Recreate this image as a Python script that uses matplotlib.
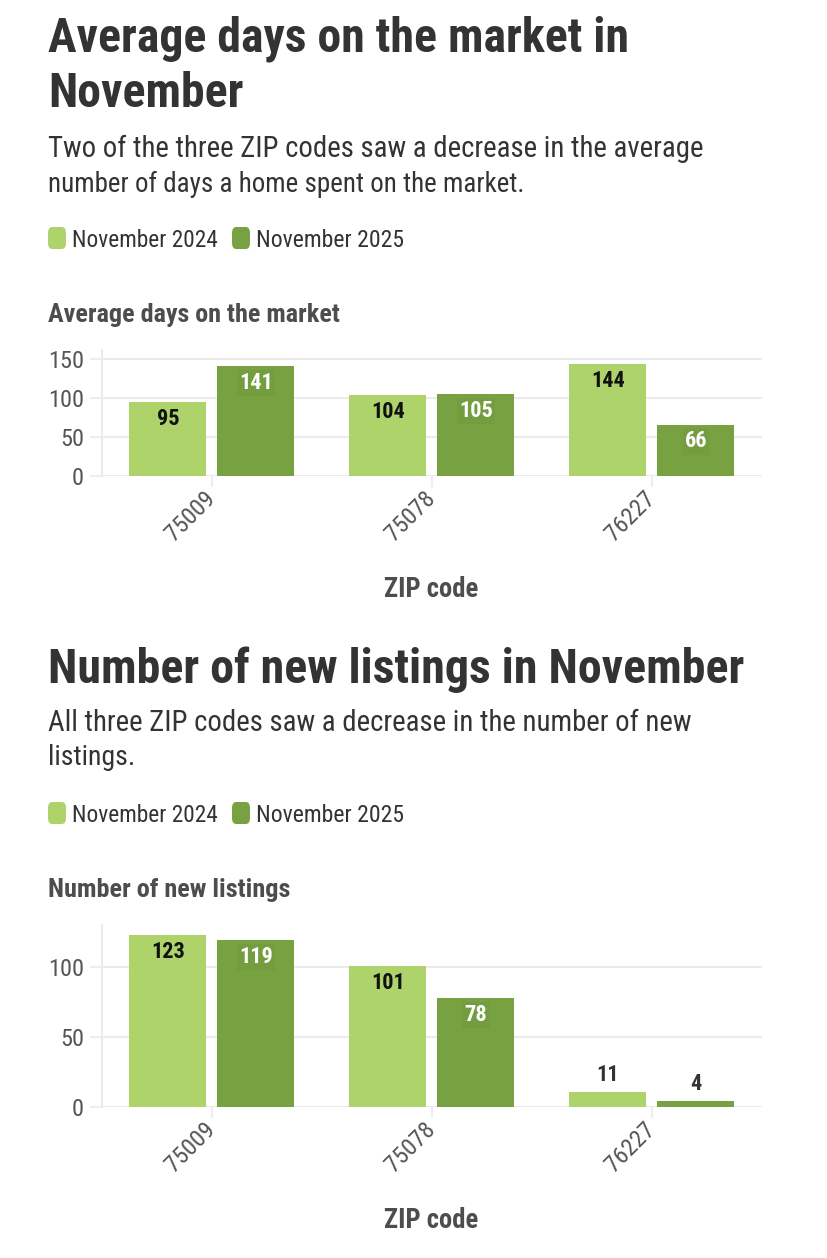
import matplotlib
matplotlib.use("Agg")
import matplotlib.pyplot as plt
from matplotlib import font_manager
from matplotlib.patches import FancyBboxPatch
import matplotlib.transforms as mtransforms
import numpy as np

# ---------------- data ----------------
zips = ["75009", "75078", "76227"]
series_names = ["November 2024", "November 2025"]
days_2024 = [95, 104, 144]
days_2025 = [141, 105, 66]
listings_2024 = [123, 101, 11]
listings_2025 = [119, 78, 4]
days_ticks = [0, 50, 100, 150]
listings_ticks = [0, 50, 100]

LIGHT = "#aed36a"
DARK = "#78a142"
TXT = "#333333"
HEAD = "#4d4d4d"
TICK = "#555555"
GRID = "#ebebeb"

W, H = 828, 1258
names = {f.name for f in font_manager.fontManager.ttflist}
FONT = "DejaVu Sans"
for cand in ["Roboto Condensed", "Liberation Sans Narrow", "Roboto"]:
    if cand in names:
        FONT = cand
        break
plt.rcParams["font.family"] = [FONT, "DejaVu Sans"]

fig = plt.figure(figsize=(W / 100, H / 100), dpi=100)
fig.patch.set_facecolor("white")
renderer = fig.canvas.get_renderer()


def fx(x):
    return x / W


def fy(y):
    return 1 - y / H


def ftext(x, y, s, size, weight="normal", color=TXT, target=None, ha="left"):
    t = fig.text(fx(x), fy(y), s, fontsize=size, fontweight=weight, color=color,
                 ha=ha, va="baseline")
    if target:
        w = t.get_window_extent(renderer).width
        if w > 0:
            t.set_fontsize(size * target / w)
    return t


def legend(y_center, y_base):
    for xs, col, xt, name in [(48, LIGHT, 72, series_names[0]), (232, DARK, 256, series_names[1])]:
        p = FancyBboxPatch((fx(xs), fy(y_center + 11)), fx(18), 22 / H,
                           boxstyle="round,pad=0,rounding_size=0.005",
                           transform=fig.transFigure, facecolor=col, edgecolor="none")
        fig.patches.append(p)
        ftext(xt, y_base, name, 17, color=TXT, target=146 if name.endswith("4") else 148)


def chart(top, bottom, ymax, v1, v2, ticks):
    ax = fig.add_axes([fx(102), fy(bottom), fx(762) - fx(102), (bottom - top) / H])
    x = np.arange(len(zips))
    ax.bar(x - 0.2, v1, width=0.35, color=LIGHT, zorder=3)
    ax.bar(x + 0.2, v2, width=0.35, color=DARK, zorder=3)
    ax.set_xlim(-0.5, 2.5)
    ax.set_ylim(0, ymax)
    ax.set_yticks(ticks)
    ax.set_yticklabels([str(t) for t in ticks])
    ax.set_xticks(x)
    ax.set_xticklabels(zips, rotation=45, ha="right", va="center", rotation_mode="anchor")
    off = mtransforms.ScaledTranslation(5 / 100, -3 / 100, fig.dpi_scale_trans)
    for lab in ax.get_xticklabels():
        lab.set_transform(lab.get_transform() + off)
    ax.tick_params(axis="y", length=8.6, width=1.2, color=GRID, pad=4.3, labelsize=17.5, labelcolor=TICK)
    ax.tick_params(axis="x", length=8, width=1.2, color=GRID, pad=6, labelsize=17.5, labelcolor=TICK)
    ax.grid(axis="y", color=GRID, linewidth=1.5, zorder=0)
    for s in ["top", "right", "bottom"]:
        ax.spines[s].set_visible(False)
    ax.spines["left"].set_color(GRID)
    ax.spines["left"].set_linewidth(1.5)
    ax.set_facecolor("white")
    for vals, off_x, incol in [(v1, -0.2, "#111111"), (v2, 0.2, "white")]:
        for i, v in enumerate(vals):
            if v / ymax < 0.15:
                ax.annotate(str(v), (i + off_x, v), xytext=(0, 12.2), textcoords="offset points",
                            ha="center", va="center", fontsize=16, fontweight="bold", color=TXT, zorder=4)
            else:
                kw = {}
                if incol == "white":
                    kw["bbox"] = dict(boxstyle="square,pad=0.1", facecolor="#739d3f", edgecolor="none")
                ax.annotate(str(v), (i + off_x, v), xytext=(0, -12.2), textcoords="offset points",
                            ha="center", va="center", fontsize=16, fontweight="bold", color=incol,
                            zorder=4, **kw)
    return ax


# ---------------- chart 1 ----------------
ftext(48, 52, "Average days on the market in", 34, "bold", TXT, target=580)
ftext(48, 107, "November", 34, "bold", TXT, target=195)
ftext(48, 157, "Two of the three ZIP codes saw a decrease in the average", 20, color=TXT, target=652)
ftext(48, 192, "number of days a home spent on the market.", 20, color=TXT, target=476)
legend(238, 247)
ftext(48, 322, "Average days on the market", 19, "bold", HEAD, target=293)
chart(350, 476, 161.5, days_2024, days_2025, days_ticks)
ftext(431, 597, "ZIP code", 19, "bold", HEAD, target=94, ha="center")

# ---------------- chart 2 ----------------
ftext(48, 683, "Number of new listings in November", 34, "bold", TXT, target=695)
ftext(48, 731, "All three ZIP codes saw a decrease in the number of new", 20, color=TXT, target=642)
ftext(48, 765, "listings.", 20, color=TXT, target=87)
legend(813, 822)
ftext(48, 897, "Number of new listings", 19, "bold", HEAD, target=243)
chart(925, 1107, 130, listings_2024, listings_2025, listings_ticks)
ftext(431, 1228, "ZIP code", 19, "bold", HEAD, target=94, ha="center")

fig.savefig("out.png", dpi=100, facecolor="white")
